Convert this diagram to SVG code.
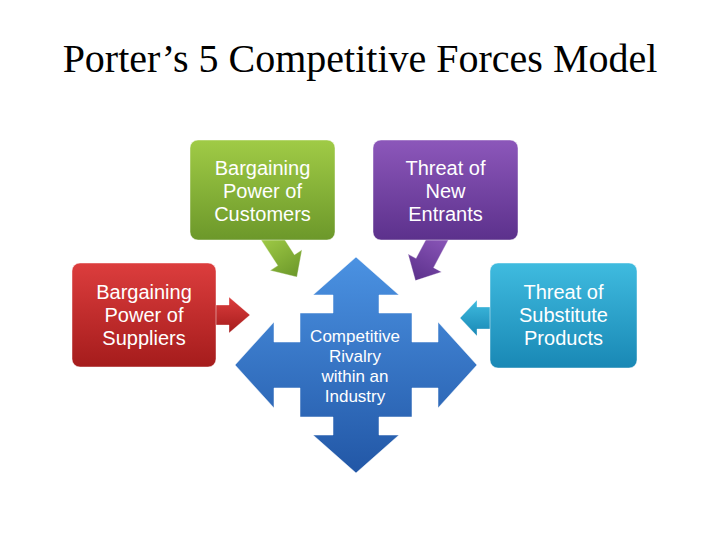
<svg xmlns="http://www.w3.org/2000/svg" width="720" height="540" viewBox="0 0 720 540">
  <defs>
    <linearGradient id="gGreen" x1="0" y1="0" x2="0" y2="1">
      <stop offset="0" stop-color="#a0cb46"/>
      <stop offset="1" stop-color="#6c982a"/>
    </linearGradient>
    <linearGradient id="gPurple" x1="0" y1="0" x2="0" y2="1">
      <stop offset="0" stop-color="#8c57ba"/>
      <stop offset="1" stop-color="#5c318c"/>
    </linearGradient>
    <linearGradient id="gRed" x1="0" y1="0" x2="0" y2="1">
      <stop offset="0" stop-color="#dc3d3d"/>
      <stop offset="1" stop-color="#a51c1c"/>
    </linearGradient>
    <linearGradient id="gCyan" x1="0" y1="0" x2="0" y2="1">
      <stop offset="0" stop-color="#3fbbdf"/>
      <stop offset="1" stop-color="#1988b5"/>
    </linearGradient>
    <linearGradient id="gBlue" x1="0" y1="0" x2="0" y2="1">
      <stop offset="0" stop-color="#4b92e2"/>
      <stop offset="1" stop-color="#2257a6"/>
    </linearGradient>
  </defs>
  <style>
    .title { font-family: "Liberation Serif", "Times New Roman", serif; font-size: 40px; fill: #000; }
    .lbl { font-family: "Liberation Sans", Arial, sans-serif; font-size: 20px; fill: #fff; text-anchor: middle; }
    .clbl { font-family: "Liberation Sans", Arial, sans-serif; font-size: 17px; fill: #fff; text-anchor: middle; }
    .box { stroke: rgba(255,255,255,0.45); stroke-width: 1; }
    .arr { stroke: rgba(255,255,255,0.35); stroke-width: 1; }
  </style>

  <text class="title" x="360" y="72" text-anchor="middle">Porter’s 5 Competitive Forces Model</text>

  <g id="connectors">
    <polygon class="arr" fill="url(#gGreen)" transform="translate(273,240) rotate(-33)" points="-10,-8 10,-8 10,24 19,24 0,44 -19,24 -10,24"/>
    <polygon class="arr" fill="url(#gPurple)" transform="translate(437,240) rotate(28)" points="-10,-8 10,-8 10,26 19,26 0,46 -19,26 -10,26"/>
    <polygon class="arr" fill="url(#gRed)" points="208,305 229,305 229,297 250,315 229,333 229,325 208,325"/>
    <polygon class="arr" fill="url(#gCyan)" points="497,307 477,307 477,300 460,318 477,336 477,329 497,329"/>
  </g>

  <g id="customers">
    <rect class="box" x="190" y="140" width="145" height="100" rx="8" fill="url(#gGreen)"/>
    <text class="lbl" x="262.5" y="175">Bargaining</text>
    <text class="lbl" x="262.5" y="198">Power of</text>
    <text class="lbl" x="262.5" y="221">Customers</text>
  </g>

  <g id="new-entrants">
    <rect class="box" x="373" y="140" width="145" height="100" rx="8" fill="url(#gPurple)"/>
    <text class="lbl" x="445.5" y="175">Threat of</text>
    <text class="lbl" x="445.5" y="198">New</text>
    <text class="lbl" x="445.5" y="221">Entrants</text>
  </g>

  <g id="suppliers">
    <rect class="box" x="72" y="263" width="144" height="104" rx="8" fill="url(#gRed)"/>
    <text class="lbl" x="144" y="299">Bargaining</text>
    <text class="lbl" x="144" y="322">Power of</text>
    <text class="lbl" x="144" y="345">Suppliers</text>
  </g>

  <g id="substitutes">
    <rect class="box" x="490" y="263" width="147" height="105" rx="8" fill="url(#gCyan)"/>
    <text class="lbl" x="563.5" y="299">Threat of</text>
    <text class="lbl" x="563.5" y="322">Substitute</text>
    <text class="lbl" x="563.5" y="345">Products</text>
  </g>

  <g id="rivalry">
    <path fill="url(#gBlue)" stroke="rgba(255,255,255,0.5)" stroke-width="1" d="M356,257 L399,295 L379,295 L379,313 L412,313 L412,342 L438,342 L438,322 L477,365 L438,408 L438,388 L412,388 L412,417 L379,417 L379,435 L399,435 L356,473 L313,435 L333,435 L333,417 L300,417 L300,388 L274,388 L274,408 L235,365 L274,322 L274,342 L300,342 L300,313 L333,313 L333,295 L313,295 Z"/>
    <text class="clbl" x="355" y="342">Competitive</text>
    <text class="clbl" x="355" y="362">Rivalry</text>
    <text class="clbl" x="355" y="382">within an</text>
    <text class="clbl" x="355" y="402">Industry</text>
  </g>
</svg>
